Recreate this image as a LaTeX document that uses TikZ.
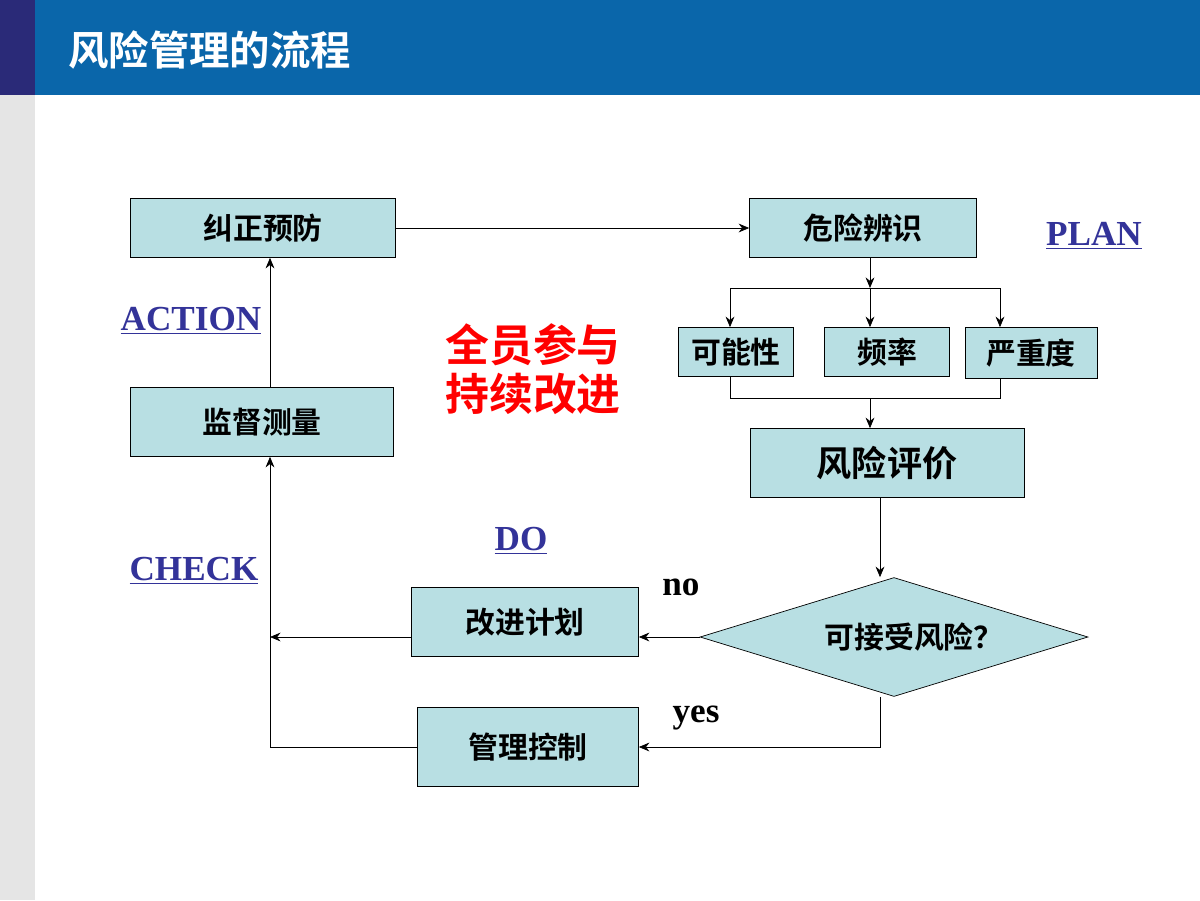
\documentclass[tikz,border=0pt]{standalone}
\usepackage{fontspec}
\setmainfont{Liberation Serif}
\newfontfamily\cjk[BoldFont={Noto Sans CJK SC Bold}]{Noto Sans CJK SC}
\usetikzlibrary{arrows.meta,shapes.geometric}
\definecolor{barblue}{HTML}{0A66AA}
\definecolor{navy}{HTML}{2A2A78}
\definecolor{boxfill}{HTML}{B8DFE3}
\definecolor{lblue}{HTML}{333399}

\begin{document}
\begin{tikzpicture}[x=0.02cm,y=-0.02cm,
    box/.style={draw,fill=boxfill,inner sep=0pt,font=\cjk\bfseries\fontsize{17}{20}\selectfont},
    phase/.style={text=lblue,font=\bfseries\fontsize{20}{24}\selectfont},
    ans/.style={font=\bfseries\fontsize{20}{24}\selectfont},
    >={Stealth[length=6pt,width=5pt]}]
      % background
      \fill[white] (0,0) rectangle (1200,900);
      \fill[black!10] (0,95) rectangle (35,900);
      \fill[navy] (0,0) rectangle (35,95);
      \fill[barblue] (35,0) rectangle (1200,95);
      \node[anchor=west,text=white,font=\cjk\bfseries\fontsize{23}{26}\selectfont] (title) at (62,50) {风险管理的流程};
      % boxes
      \node[box,minimum width=5.3cm,minimum height=1.18cm] (jiuzheng) at (263,228) {纠正预防};
      \node[box,minimum width=4.54cm,minimum height=1.18cm] (weixian) at (863,228) {危险辨识};
      \node[box,minimum width=2.3cm,minimum height=0.98cm] (keneng) at (736,352) {可能性};
      \node[box,minimum width=2.5cm,minimum height=0.98cm] (pinlv) at (887,352) {频率};
      \node[box,minimum width=2.64cm,minimum height=1.02cm] (yanzhong) at (1031,353) {严重度};
      \node[box,minimum width=5.48cm,minimum height=1.38cm,font=\cjk\bfseries\fontsize{20}{24}\selectfont] (pingjia) at (887,463) {风险评价};
      \node[draw,fill=boxfill,diamond,aspect=3.27,inner sep=0pt,minimum width=7.76cm,minimum height=2.38cm,font=\cjk\bfseries\fontsize{17}{20}\selectfont] (jieshou) at (894,637) {\hspace{0.8cm}可接受风险？};
      \node[box,minimum width=4.54cm,minimum height=1.38cm] (gaijin) at (525,622) {改进计划};
      \node[box,minimum width=4.42cm,minimum height=1.58cm] (guanli) at (528,747) {管理控制};
      \node[box,minimum width=5.26cm,minimum height=1.38cm] (jiandu) at (262,422) {监督测量};
      % labels
      \node[phase] (plan) at (1094,236) {\underline{PLAN}};
      \node[phase] (action) at (191,321) {\underline{ACTION}};
      \node[phase] (check) at (194,571) {\underline{CHECK}};
      \node[phase] (do) at (521,541) {\underline{DO}};
      \node[ans] (no) at (681,587) {no};
      \node[ans] (yes) at (696,718) {yes};
      \node[text=red,font=\cjk\bfseries\fontsize{25}{28}\selectfont,align=center] (quanyuan) at (533,369) {全员参与\\持续改进};
      % connectors
      \coordinate (s1) at (870,288);
      \coordinate (s2) at (870,398);
      \coordinate (fl) at (730,288);
      \coordinate (fr) at (1000,288);
      \coordinate (dv) at (880,0);
      \coordinate (dl) at (270,637);
      \coordinate (gl) at (270,747);
      \draw[->] (jiuzheng) -- (weixian);
      \draw[->] (weixian.south -| s1) -- (s1);
      \draw (fl) -- (fr);
      \draw[->] (fl) -- (keneng.north -| fl);
      \draw[->] (s1) -- (pinlv.north -| s1);
      \draw[->] (fr) -- (yanzhong.north -| fr);
      \draw (keneng.south -| fl) -- (s2 -| fl) -- (s2 -| fr) -- (yanzhong.south -| fr);
      \draw[->] (s2) -- (pingjia.north -| s2);
      \draw[->] (pingjia.south -| dv) -- (jieshou.north -| dv);
      \draw[->] (jieshou.west) -- (gaijin.east |- jieshou.west);
      \draw[->] (jieshou.south -| dv) -- (guanli.east -| dv) -- (guanli.east);
      \draw[->] (gaijin.west |- dl) -- (dl);
      \draw[->] (guanli.west |- gl) -- (gl) -- (jiandu.south -| gl);
      \draw[->] (jiandu.north -| gl) -- (jiuzheng.south -| gl);
    \end{tikzpicture}
\end{document}
